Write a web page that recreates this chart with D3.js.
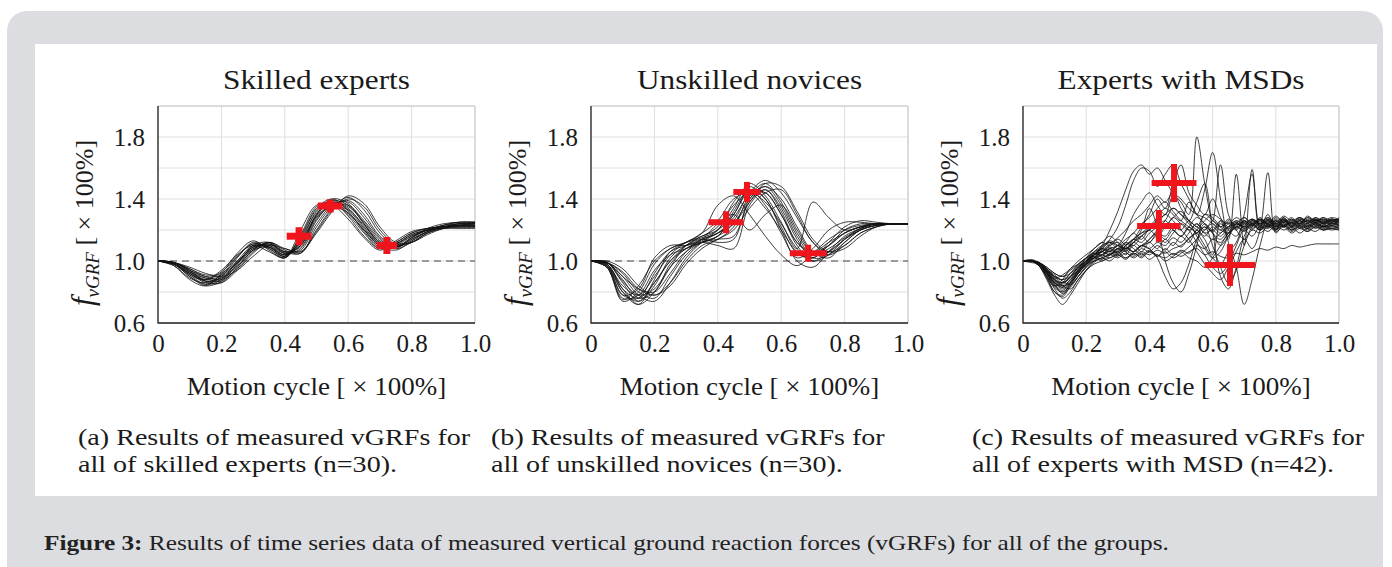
<!DOCTYPE html>
<html><head><meta charset="utf-8">
<script src="https://cdn.jsdelivr.net/npm/d3@7"></script>
<style>body{margin:0;background:#fff}svg{display:block}</style>
</head><body><svg id="chart" width="1392" height="567"></svg>
<script>
// ---------------- DATA ----------------
const panelTitles = ["Skilled experts", "Unskilled novices", "Experts with MSDs"];
const panelCaptions = [
  ["(a) Results of measured vGRFs for", "all of skilled experts (n=30)."],
  ["(b) Results of measured vGRFs for", "all of unskilled novices (n=30)."],
  ["(c) Results of measured vGRFs for", "all of experts with MSD (n=42)."]
];
const xTicks = [0, 0.2, 0.4, 0.6, 0.8, 1.0];
const xTickLabels = ["0", "0.2", "0.4", "0.6", "0.8", "1.0"];
const yGrid = [0.6, 0.8, 1.0, 1.2, 1.4, 1.6, 1.8, 2.0];
const yTicks = [0.6, 1.0, 1.4, 1.8];
const yTickLabels = ["0.6", "1.0", "1.4", "1.8"];
const xTitle = "Motion cycle [ × 100%]";
const yTitleMain = "f", yTitleSub = "vGRF", yTitleRest = " [ × 100%]";
const figureLabel = "Figure 3:";
const figureText = " Results of time series data of measured vertical ground reaction forces (vGRFs) for all of the groups.";

const sampleX21 = [0,0.05,0.1,0.15,0.2,0.25,0.3,0.35,0.4,0.45,0.5,0.55,0.6,0.65,0.7,0.75,0.8,0.85,0.9,0.95,1.0];
const sampleX41 = [0,0.025,0.05,0.075,0.1,0.125,0.15,0.175,0.2,0.225,0.25,0.275,0.3,0.325,0.35,0.375,0.4,0.425,0.45,0.475,0.5,0.525,0.55,0.575,0.6,0.625,0.65,0.675,0.7,0.725,0.75,0.775,0.8,0.825,0.85,0.875,0.9,0.925,0.95,0.975,1.0];

const expertsCurves = [
  [1.00,0.99,0.93,0.87,0.88,0.98,1.09,1.10,1.04,1.12,1.30,1.38,1.34,1.22,1.11,1.10,1.16,1.20,1.22,1.23,1.23],
  [1.00,0.98,0.90,0.85,0.90,1.02,1.12,1.08,1.03,1.16,1.34,1.40,1.32,1.19,1.09,1.12,1.18,1.21,1.22,1.22,1.22],
  [1.00,0.99,0.94,0.90,0.88,0.95,1.06,1.11,1.06,1.07,1.24,1.36,1.38,1.28,1.15,1.09,1.14,1.19,1.22,1.24,1.24],
  [1.00,0.97,0.88,0.84,0.92,1.05,1.13,1.07,1.02,1.20,1.36,1.36,1.27,1.15,1.07,1.13,1.19,1.21,1.22,1.22,1.22],
  [1.00,0.99,0.95,0.91,0.92,1.00,1.08,1.10,1.05,1.10,1.28,1.35,1.33,1.23,1.12,1.09,1.15,1.20,1.23,1.25,1.25],
  [1.00,0.98,0.92,0.86,0.86,0.96,1.07,1.12,1.07,1.05,1.20,1.34,1.41,1.33,1.18,1.10,1.12,1.18,1.21,1.23,1.24],
  [1.00,0.99,0.91,0.88,0.94,1.04,1.10,1.06,1.02,1.14,1.31,1.37,1.30,1.18,1.08,1.11,1.17,1.20,1.21,1.21,1.21],
  [1.00,0.98,0.93,0.89,0.90,0.99,1.09,1.09,1.04,1.11,1.29,1.39,1.36,1.24,1.12,1.08,1.15,1.21,1.24,1.25,1.25],
  [1.00,0.99,0.96,0.92,0.90,0.94,1.03,1.10,1.08,1.06,1.18,1.32,1.42,1.37,1.22,1.12,1.12,1.17,1.21,1.23,1.24],
  [1.00,0.97,0.89,0.86,0.91,1.03,1.11,1.09,1.03,1.15,1.33,1.38,1.31,1.20,1.10,1.11,1.17,1.20,1.22,1.23,1.23],
  [1.00,0.98,0.92,0.87,0.89,0.99,1.09,1.11,1.05,1.08,1.26,1.37,1.35,1.25,1.13,1.09,1.14,1.19,1.22,1.24,1.24],
  [1.00,0.99,0.94,0.89,0.87,0.96,1.07,1.12,1.06,1.05,1.22,1.35,1.39,1.30,1.16,1.10,1.13,1.19,1.23,1.25,1.25],
  [1.00,0.98,0.91,0.85,0.88,1.00,1.10,1.09,1.03,1.13,1.32,1.39,1.33,1.21,1.10,1.07,1.13,1.19,1.22,1.23,1.23],
  [1.00,0.99,0.93,0.88,0.89,0.97,1.08,1.11,1.06,1.09,1.27,1.36,1.36,1.26,1.14,1.08,1.12,1.18,1.21,1.22,1.22],
  [1.00,0.98,0.90,0.84,0.87,0.98,1.10,1.12,1.05,1.10,1.30,1.40,1.37,1.24,1.11,1.09,1.15,1.20,1.23,1.24,1.24],
  [1.00,0.99,0.95,0.90,0.91,0.99,1.07,1.09,1.04,1.12,1.29,1.35,1.31,1.20,1.10,1.11,1.16,1.20,1.22,1.22,1.22],
  [1.00,0.98,0.92,0.88,0.93,1.03,1.11,1.08,1.02,1.17,1.35,1.38,1.29,1.16,1.08,1.12,1.18,1.21,1.22,1.23,1.23],
  [1.00,0.99,0.94,0.87,0.86,0.94,1.05,1.12,1.08,1.06,1.19,1.33,1.40,1.35,1.20,1.11,1.12,1.18,1.22,1.24,1.25]
];
const novicesCurves = [
  [1.00,0.96,0.74,0.80,0.98,1.08,1.12,1.15,1.20,1.38,1.48,1.40,1.22,1.05,1.02,1.10,1.18,1.22,1.24,1.24,1.24],
  [1.00,0.99,0.88,0.76,0.80,0.98,1.08,1.12,1.16,1.30,1.45,1.44,1.30,1.12,1.04,1.08,1.15,1.21,1.24,1.24,1.24],
  [1.00,0.98,0.80,0.72,0.88,1.06,1.12,1.18,1.36,1.42,1.30,1.16,1.04,0.97,1.05,1.14,1.20,1.23,1.24,1.24,1.24],
  [1.00,1.00,0.95,0.84,0.78,0.86,1.00,1.10,1.14,1.22,1.42,1.50,1.38,1.18,1.05,1.06,1.14,1.20,1.23,1.24,1.24],
  [1.00,0.97,0.78,0.82,1.02,1.10,1.10,1.12,1.10,1.08,1.36,1.46,1.32,1.12,1.06,1.12,1.18,1.22,1.24,1.24,1.24],
  [1.00,0.99,0.86,0.74,0.84,1.02,1.10,1.13,1.20,1.34,1.50,1.42,1.25,1.08,1.38,1.28,1.20,1.22,1.24,1.24,1.24],
  [1.00,0.99,0.92,0.80,0.76,0.90,1.04,1.12,1.16,1.24,1.40,1.48,1.40,1.22,1.06,1.02,1.12,1.20,1.23,1.24,1.24],
  [1.00,0.96,0.76,0.78,0.94,1.04,1.08,1.12,1.16,1.32,1.46,1.36,1.18,1.02,1.08,1.20,1.25,1.25,1.24,1.24,1.24],
  [1.00,0.98,0.84,0.78,0.90,1.04,1.12,1.16,1.22,1.36,1.44,1.38,1.24,1.08,1.00,1.06,1.14,1.20,1.23,1.24,1.24],
  [1.00,0.99,0.90,0.82,0.80,0.92,1.06,1.14,1.18,1.26,1.44,1.52,1.44,1.28,1.12,1.04,1.10,1.18,1.22,1.24,1.24],
  [1.00,0.97,0.80,0.74,0.86,1.00,1.08,1.14,1.24,1.30,1.20,1.30,1.36,1.20,1.06,1.10,1.18,1.22,1.24,1.24,1.24],
  [1.00,0.99,0.87,0.78,0.82,0.96,1.06,1.12,1.14,1.16,1.38,1.46,1.34,1.14,1.02,1.04,1.12,1.20,1.23,1.24,1.24],
  [1.00,0.98,0.82,0.76,0.86,1.00,1.10,1.16,1.20,1.30,1.46,1.40,1.20,1.00,0.96,1.06,1.16,1.21,1.24,1.24,1.24],
  [1.00,0.99,0.93,0.82,0.78,0.84,0.98,1.08,1.14,1.20,1.34,1.44,1.46,1.30,1.12,1.06,1.10,1.18,1.22,1.24,1.24],
  [1.00,0.97,0.78,0.76,0.92,1.06,1.10,1.14,1.18,1.28,1.42,1.44,1.30,1.10,1.00,1.04,1.14,1.21,1.24,1.24,1.24],
  [1.00,0.99,0.90,0.78,0.74,0.86,1.02,1.12,1.18,1.24,1.38,1.50,1.48,1.32,1.14,1.06,1.08,1.16,1.22,1.24,1.24],
  [1.00,0.98,0.82,0.72,0.80,0.96,1.10,1.14,1.12,1.14,1.40,1.48,1.36,1.16,1.04,1.10,1.20,1.24,1.24,1.24,1.24],
  [1.00,0.96,0.75,0.84,1.00,1.08,1.12,1.18,1.26,1.40,1.44,1.34,1.20,1.06,1.02,1.12,1.22,1.26,1.25,1.24,1.24]
];
const msdCurves = [
  [1.00,1.00,0.99,0.92,0.84,0.88,0.95,0.98,1.02,1.05,1.04,1.08,1.10,1.18,1.30,1.38,1.44,1.36,1.30,1.42,1.38,1.30,1.80,1.50,1.26,1.62,1.30,1.20,1.14,1.22,1.26,1.22,1.25,1.27,1.22,1.24,1.26,1.23,1.25,1.24,1.25],
  [1.00,1.00,0.98,0.90,0.80,0.78,0.86,0.94,1.00,1.04,1.08,1.14,1.22,1.36,1.52,1.60,1.58,1.48,1.56,1.62,1.50,1.40,1.30,1.24,1.18,1.14,1.20,1.24,1.22,1.26,1.24,1.27,1.23,1.26,1.24,1.28,1.25,1.27,1.24,1.26,1.25],
  [1.00,1.01,0.99,0.94,0.88,0.86,0.90,0.96,1.00,1.04,1.06,1.04,1.08,1.06,1.12,1.20,1.34,1.22,1.00,0.86,0.80,0.92,1.10,1.30,1.28,1.22,1.18,1.24,1.22,1.26,1.23,1.21,1.24,1.22,1.25,1.21,1.23,1.22,1.24,1.21,1.22],
  [1.00,1.00,0.97,0.90,0.82,0.76,0.80,0.88,0.94,0.98,1.00,1.02,1.04,1.02,1.05,1.03,1.06,1.04,1.02,1.05,1.03,1.06,1.08,1.04,1.06,1.03,1.02,1.05,1.04,1.06,1.08,1.07,1.09,1.08,1.10,1.09,1.10,1.11,1.11,1.11,1.11],
  [1.00,0.99,0.98,0.93,0.86,0.84,0.88,0.94,1.00,1.06,1.10,1.12,1.08,1.12,1.18,1.14,1.22,1.28,1.34,1.30,1.26,1.38,1.30,1.46,1.70,1.40,1.12,0.96,0.72,0.88,1.10,1.24,1.20,1.26,1.22,1.25,1.21,1.24,1.22,1.25,1.23],
  [1.00,1.00,0.98,0.94,0.90,0.86,0.90,0.96,1.02,1.08,1.12,1.10,1.14,1.10,1.06,1.10,1.14,1.20,1.26,1.34,1.30,1.24,1.20,1.14,1.04,1.26,1.14,1.56,1.10,1.59,1.22,1.30,1.20,1.28,1.22,1.26,1.22,1.27,1.24,1.26,1.23],
  [1.00,1.00,0.99,0.95,0.90,0.88,0.92,0.98,1.02,1.06,1.08,1.06,1.10,1.08,1.12,1.16,1.20,1.24,1.30,1.26,1.20,1.14,1.06,0.98,0.92,0.88,0.96,1.06,1.14,1.08,1.20,1.57,1.18,1.24,1.20,1.23,1.21,1.24,1.20,1.23,1.21],
  [1.00,1.00,0.98,0.92,0.86,0.82,0.86,0.92,0.98,1.02,1.06,1.10,1.12,1.08,1.14,1.18,1.20,1.24,1.22,1.28,1.24,1.20,1.24,1.18,1.20,1.16,1.22,1.26,1.24,1.27,1.25,1.28,1.24,1.27,1.25,1.28,1.26,1.27,1.25,1.27,1.26],
  [1.00,1.00,0.99,0.96,0.92,0.90,0.94,0.98,1.02,1.04,1.10,1.20,1.32,1.46,1.58,1.62,1.56,1.60,1.52,1.44,1.40,1.34,1.30,1.28,1.24,1.20,1.26,1.22,1.25,1.21,1.24,1.22,1.26,1.23,1.25,1.22,1.24,1.21,1.23,1.22,1.23],
  [1.00,1.00,0.98,0.92,0.84,0.80,0.84,0.90,0.96,1.00,1.02,1.04,1.06,1.02,1.06,1.10,1.08,1.02,0.90,0.82,0.86,0.98,1.14,1.22,1.10,0.96,0.86,0.94,1.10,1.20,1.18,1.22,1.20,1.23,1.20,1.22,1.19,1.22,1.20,1.21,1.20],
  [1.00,1.00,0.99,0.95,0.90,0.88,0.90,0.94,0.98,1.00,1.02,1.04,1.02,1.05,1.03,1.06,1.04,1.07,1.05,1.08,1.10,1.14,1.20,1.26,1.30,1.27,1.24,1.28,1.25,1.27,1.24,1.26,1.23,1.26,1.24,1.27,1.25,1.26,1.24,1.26,1.25],
  [1.00,1.00,0.98,0.93,0.87,0.85,0.90,0.96,1.00,1.04,1.06,1.08,1.06,1.10,1.14,1.22,1.30,1.40,1.34,1.50,1.62,1.44,1.36,1.30,1.40,1.28,1.20,1.16,1.24,1.20,1.26,1.22,1.27,1.23,1.26,1.24,1.27,1.25,1.28,1.26,1.27],
  [1.00,1.00,0.99,0.96,0.92,0.90,0.92,0.96,1.00,1.02,1.04,1.06,1.04,1.08,1.06,1.10,1.12,1.16,1.12,1.18,1.24,1.20,1.12,1.04,0.96,0.92,0.98,1.10,1.20,1.16,1.22,1.19,1.23,1.20,1.22,1.18,1.21,1.19,1.22,1.20,1.21],
  [1.00,1.00,0.98,0.94,0.88,0.84,0.86,0.92,0.98,1.04,1.08,1.12,1.10,1.14,1.18,1.24,1.28,1.34,1.38,1.32,1.26,1.22,1.18,1.10,1.02,0.98,1.06,1.12,1.30,1.56,1.20,1.26,1.24,1.28,1.23,1.26,1.24,1.28,1.25,1.27,1.26],
  [1.00,1.00,0.98,0.91,0.83,0.80,0.85,0.93,0.99,1.04,1.08,1.06,1.10,1.07,1.12,1.09,1.14,1.18,1.16,1.22,1.20,1.26,1.22,1.30,1.26,1.22,1.25,1.21,1.26,1.23,1.27,1.24,1.21,1.25,1.22,1.26,1.23,1.25,1.22,1.24,1.23],
  [1.00,1.00,0.99,0.95,0.89,0.84,0.82,0.88,0.94,0.99,1.02,1.00,1.04,1.01,1.05,1.02,1.06,1.03,1.08,1.04,1.07,1.05,1.10,1.08,1.14,1.12,1.18,1.22,1.26,1.23,1.27,1.24,1.28,1.25,1.27,1.24,1.28,1.26,1.27,1.25,1.27],
  [1.00,1.00,0.97,0.88,0.78,0.72,0.78,0.86,0.94,1.00,1.04,1.08,1.05,1.10,1.14,1.12,1.18,1.22,1.26,1.20,1.16,1.22,1.28,1.24,1.18,1.10,1.16,1.22,1.20,1.24,1.21,1.25,1.22,1.24,1.20,1.23,1.21,1.24,1.22,1.23,1.22],
  [1.00,1.00,0.99,0.94,0.87,0.83,0.87,0.93,0.99,1.03,1.07,1.11,1.15,1.20,1.26,1.30,1.36,1.42,1.38,1.44,1.34,1.26,1.16,1.08,1.02,1.06,1.16,1.24,1.28,1.24,1.27,1.23,1.26,1.22,1.25,1.23,1.26,1.24,1.26,1.23,1.25],
  [1.00,1.00,0.98,0.93,0.88,0.86,0.89,0.95,1.00,1.03,1.01,1.05,1.03,1.07,1.04,1.08,1.06,1.10,1.07,1.12,1.09,1.15,1.18,1.22,1.19,1.24,1.21,1.25,1.22,1.26,1.23,1.27,1.24,1.26,1.23,1.27,1.24,1.26,1.25,1.27,1.26],
  [1.00,1.00,0.98,0.92,0.85,0.81,0.86,0.92,0.98,1.02,1.06,1.04,1.08,1.12,1.10,1.16,1.20,1.16,1.22,1.28,1.32,1.26,1.38,1.50,1.20,0.90,0.82,0.96,1.16,1.24,1.20,1.26,1.22,1.27,1.23,1.26,1.22,1.25,1.23,1.26,1.24],
  [1.00,1.00,0.97,0.90,0.84,0.86,0.92,0.97,1.01,1.05,1.03,1.07,1.05,1.09,1.06,1.10,1.08,1.12,1.10,1.15,1.12,1.18,1.24,1.20,1.26,1.22,1.27,1.23,1.28,1.24,1.27,1.23,1.26,1.22,1.27,1.24,1.28,1.25,1.27,1.24,1.26],
  [1.00,1.00,0.98,0.93,0.85,0.79,0.83,0.90,0.97,1.02,1.06,1.09,1.07,1.11,1.08,1.04,1.07,1.03,1.06,1.02,1.05,1.09,1.14,1.20,1.24,1.20,1.18,1.22,1.19,1.23,1.20,1.24,1.21,1.23,1.19,1.22,1.20,1.23,1.21,1.22,1.21],
  [1.00,1.00,0.99,0.95,0.91,0.87,0.85,0.90,0.96,1.01,1.04,1.02,1.06,1.10,1.14,1.18,1.22,1.26,1.30,1.34,1.30,1.26,1.22,1.18,1.14,1.18,1.22,1.26,1.23,1.27,1.24,1.28,1.25,1.29,1.26,1.28,1.25,1.28,1.26,1.28,1.27],
  [1.00,1.00,0.98,0.92,0.86,0.83,0.88,0.94,1.00,1.05,1.09,1.13,1.10,1.06,1.02,1.05,1.01,1.04,1.00,1.03,1.06,1.02,1.00,0.96,1.02,1.10,1.18,1.24,1.21,1.25,1.22,1.26,1.22,1.25,1.21,1.24,1.22,1.25,1.22,1.24,1.23],
  [1.00,1.00,0.99,0.94,0.89,0.91,0.95,1.00,1.04,1.08,1.12,1.16,1.12,1.08,1.12,1.16,1.12,1.18,1.14,1.20,1.16,1.22,1.18,1.24,1.20,1.26,1.22,1.25,1.21,1.24,1.20,1.23,1.19,1.22,1.18,1.21,1.19,1.22,1.20,1.21,1.20],
  [1.00,1.00,0.97,0.89,0.80,0.77,0.84,0.92,0.98,1.02,1.00,1.04,1.08,1.04,1.10,1.06,1.12,1.08,1.14,1.10,1.16,1.12,1.20,1.16,1.22,1.18,1.24,1.20,1.26,1.22,1.28,1.24,1.29,1.25,1.28,1.24,1.29,1.26,1.28,1.25,1.28]
];
// markers: [mean x, mean y, sd x, sd y]
const expertsMarkers = [[0.445,1.16,0.039,0.058],[0.543,1.355,0.039,0.042],[0.722,1.10,0.032,0.055]];
const novicesMarkers = [[0.426,1.25,0.055,0.071],[0.492,1.445,0.043,0.065],[0.685,1.05,0.058,0.055]];
const msdMarkers = [[0.478,1.503,0.071,0.123],[0.43,1.226,0.069,0.103],[0.655,0.974,0.08,0.135]];

// ---------------- LAYOUT ----------------
const panels = [
  {left:158, right:475, xs:sampleX21, curves:expertsCurves, markers:expertsMarkers, dashed:true, mw:7, capX:78},
  {left:591, right:908, xs:sampleX21, curves:novicesCurves, markers:novicesMarkers, dashed:true, mw:6, capX:491},
  {left:1023, right:1339, xs:sampleX41, curves:msdCurves, markers:msdMarkers, dashed:false, mw:6, capX:972}
];
const plotTop = 106, plotBottom = 323;
const serif = "'Liberation Serif','Times New Roman',serif";

const svg = d3.select("#chart");
svg.append("rect").attr("x",0).attr("y",0).attr("width",1392).attr("height",567).attr("fill","#ffffff");
svg.append("rect").attr("x",7).attr("y",11).attr("width",1376).attr("height",575).attr("rx",20).attr("fill","#dcdde0");
svg.append("rect").attr("x",35).attr("y",44).attr("width",1342).attr("height",452).attr("fill","#ffffff");

const yScale = d3.scaleLinear().domain([0.6, 2.0]).range([plotBottom, plotTop]);

panels.forEach((p, i) => {
  const x = d3.scaleLinear().domain([0, 1]).range([p.left, p.right]);
  const y = yScale;
  const g = svg.append("g");
  g.selectAll(".gx").data(xTicks).join("line")
    .attr("x1", d => x(d)).attr("x2", d => x(d)).attr("y1", plotTop).attr("y2", plotBottom)
    .attr("stroke", "#dedede").attr("stroke-width", 1);
  g.selectAll(".gy").data(yGrid).join("line")
    .attr("x1", p.left).attr("x2", p.right).attr("y1", d => y(d)).attr("y2", d => y(d))
    .attr("stroke", "#dedede").attr("stroke-width", 1);
  g.append("path").attr("d", `M${p.left},${plotTop}H${p.right}V${plotBottom}`).attr("fill","none").attr("stroke","#c8c8c8").attr("stroke-width",1);
  if (p.dashed) {
    g.append("line").attr("x1", p.left).attr("x2", p.right).attr("y1", y(1.0)).attr("y2", y(1.0))
      .attr("stroke", "#444").attr("stroke-width", 1.1).attr("stroke-dasharray", "7,5");
  }
  const line = d3.line().x((d, k) => x(p.xs[k])).y(d => y(d)).curve(d3.curveCatmullRom.alpha(0.5));
  g.selectAll(".curve").data(p.curves).join("path")
    .attr("d", d => line(d)).attr("fill", "none")
    .attr("stroke", "#111").attr("stroke-width", 0.95).attr("stroke-opacity", 0.85);
  const mk = g.selectAll(".mk").data(p.markers).join("g");
  mk.append("line").attr("x1", d => x(d[0] - d[2])).attr("x2", d => x(d[0] + d[2]))
    .attr("y1", d => y(d[1])).attr("y2", d => y(d[1]))
    .attr("stroke", "#f0141c").attr("stroke-width", p.mw);
  mk.append("line").attr("x1", d => x(d[0])).attr("x2", d => x(d[0]))
    .attr("y1", d => y(d[1] - d[3])).attr("y2", d => y(d[1] + d[3]))
    .attr("stroke", "#f0141c").attr("stroke-width", p.mw);
  g.append("path").attr("d", `M${p.left},${plotTop}V${plotBottom}H${p.right}`).attr("fill","none").attr("stroke","#222").attr("stroke-width",1.3);

  const xa = g.append("g").attr("transform", `translate(0,${plotBottom})`)
    .call(d3.axisBottom(x).tickValues(xTicks).tickFormat((d, k) => xTickLabels[k]).tickSize(0).tickPadding(11));
  xa.select(".domain").remove();
  xa.selectAll("text").attr("font-family", serif).attr("font-size", 25).attr("fill", "#1a1a1a");
  const ya = g.append("g").attr("transform", `translate(${p.left},0)`)
    .call(d3.axisLeft(y).tickValues(yTicks).tickFormat((d, k) => yTickLabels[k]).tickSize(0).tickPadding(13));
  ya.select(".domain").remove();
  ya.selectAll("text").attr("font-family", serif).attr("font-size", 25).attr("fill", "#1a1a1a");

  const cx = (p.left + p.right) / 2;
  g.append("text").attr("transform", `translate(${cx},89) scale(1.16,1)`)
    .attr("text-anchor", "middle").attr("font-family", serif).attr("font-size", 27).attr("fill", "#1a1a1a")
    .text(panelTitles[i]);
  g.append("text").attr("transform", `translate(${cx},395) scale(1.08,1)`)
    .attr("text-anchor", "middle").attr("font-family", serif).attr("font-size", 25).attr("fill", "#1a1a1a")
    .text(xTitle);
  const yt = g.append("text").attr("transform", `translate(${p.left - 65},223) rotate(-90)`)
    .attr("text-anchor", "middle").attr("font-family", serif).attr("fill", "#1a1a1a");
  yt.append("tspan").attr("font-size", 31).attr("font-style", "italic").text(yTitleMain);
  yt.append("tspan").attr("font-size", 19).attr("font-style", "italic").attr("dy", 6).text(yTitleSub);
  yt.append("tspan").attr("font-size", 26).attr("dy", -6).text(yTitleRest);
  panelCaptions[i].forEach((t, k) => {
    g.append("text").attr("transform", `translate(${p.capX},${445 + k * 27}) scale(1.17,1)`)
      .attr("font-family", serif).attr("font-size", 24).attr("fill", "#1a1a1a").text(t);
  });
});

const fc = svg.append("text").attr("transform", "translate(44,550) scale(1.15,1)")
  .attr("font-family", serif).attr("font-size", 22).attr("fill", "#222");
fc.append("tspan").attr("font-weight", "bold").text(figureLabel);
fc.append("tspan").text(figureText);
</script></body></html>
